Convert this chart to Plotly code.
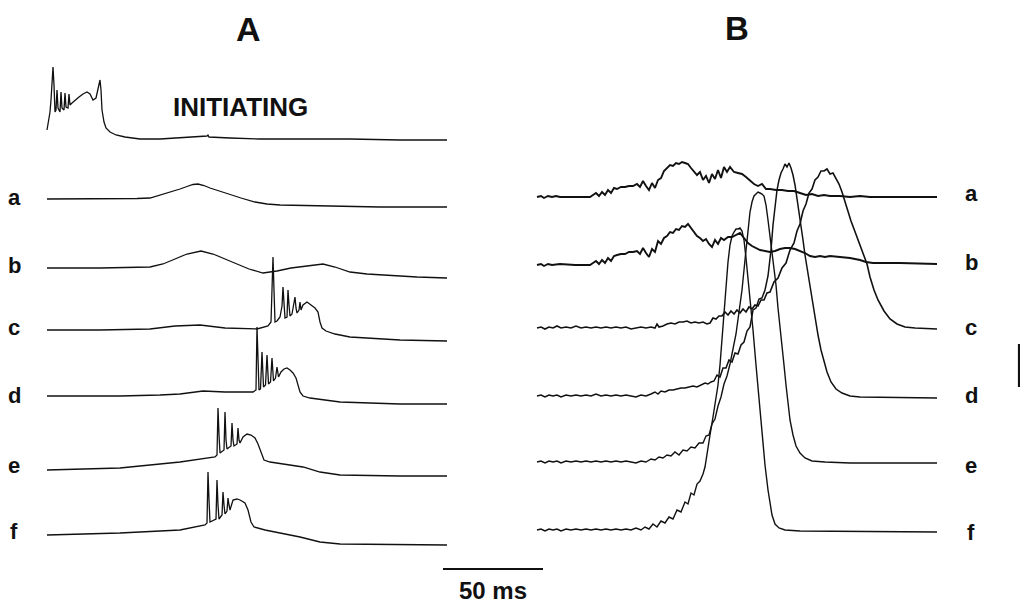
import plotly.graph_objects as go

# ---------------- data (time in ms, deflection in arbitrary units, up = positive) -------------
# Panel A : intracellular recordings
A_init_t = [0, 1, 1.5, 2, 2.5, 3, 3.5, 4, 4.5, 5, 5.5, 6.5, 7, 7.5, 8.5, 9, 9.5, 10.5, 11, 11.5,
            12.5, 14, 16, 18, 20, 21.5, 23, 24.5, 25.5, 26.5, 27, 27.5, 28.5, 29.5, 31.5, 34.5, 39,
            46.5, 56.5, 66.5, 74, 80, 80.5, 81, 91.5, 106.5, 126.5, 151.5, 176.5, 200]
A_init_v = [10, 20, 28, 40, 60, 73, 55, 28, 30, 50, 32, 28, 48, 32, 30, 47, 33, 32, 46, 35,
            37, 40, 43, 46, 48, 46, 40, 42, 52, 60, 50, 30, 18, 12, 8, 5, 3,
            1, 1, 2, 3, 4, 5, 3, 2, 1, 1, 1, 0, 0]

A_a_t = [0, 26.5, 45, 51.5, 55, 59, 63, 66.5, 70, 73, 75.5, 78.5, 81.5, 86, 91.5, 97, 104, 110,
         116.5, 136.5, 166.5, 200]
A_a_v = [8, 8, 8.5, 9, 11, 13, 15.5, 18, 20.5, 22.5, 23, 21.5, 19, 16, 12, 9, 5, 3, 2, 1, 0, 0]

A_b_t = [0, 26.5, 51.5, 58, 64, 70, 77, 83, 89, 95, 101, 108, 115, 122, 130, 138, 144, 151.5,
         160, 170, 185, 200]
A_b_v = [10, 10, 11, 14, 19, 24, 27, 24, 19, 14, 9, 5, 7, 10, 12, 14, 11, 6, 4, 2.5, 1, 0]

A_c_t = [0, 26.5, 51.5, 64, 76.5, 89, 105, 110.5, 112, 112.5, 113, 113.5, 114, 115, 116.5, 117.5,
         118, 118.5, 119, 120, 120.5, 121, 121.5, 122.5, 123.5, 124, 124.5, 125, 126, 126.5, 127,
         128, 130, 132, 134, 135.5, 136.5, 137.5, 139.5, 144, 151.5, 176.5, 200]
A_c_v = [11, 11, 12, 15, 16, 13, 12, 15, 19, 51, 84, 51, 19, 20, 24, 35,
         54, 38, 23, 24, 51, 36, 25, 27, 41, 44, 33, 28, 31, 39, 31,
         36, 39, 36, 33, 29, 19, 13, 10, 7, 4, 1, 0]

A_d_t = [0, 36.5, 56.5, 66.5, 78, 89, 103, 104.5, 105, 105.5, 106, 106.75, 107.5, 108.25, 109.25,
         110, 110.75, 111.75, 112.5, 113.25, 114.25, 115, 115.75, 117, 118.5, 120, 121.5, 123,
         124.5, 125.5, 126.5, 128, 131.5, 139, 146.5, 176.5, 200]
A_d_v = [8, 8, 9, 10, 13, 12, 12, 14, 77, 39, 14, 15, 52, 17, 19,
         49, 20, 22, 46, 23, 26, 37, 27, 32, 35, 36, 34, 31,
         26, 19, 12, 8, 6, 4, 2, 0, 0]

A_e_t = [0, 36.5, 66.5, 84, 85, 85.5, 86, 86.5, 88.5, 89, 89.5, 90, 92, 92.5, 93, 93.5, 95, 95.5,
         96, 96.5, 98, 100, 102, 104, 105.5, 107, 108.5, 111.5, 119, 128, 136.5, 146.5, 176.5, 200]
A_e_v = [6, 8, 14, 19, 21, 68, 41, 23, 26, 64, 36, 27, 30, 53, 36, 30, 32, 48,
         36, 33, 39, 42, 41, 38, 32, 23, 16, 14, 12, 9, 4, 1, 0, 0]

A_f_t = [0, 36.5, 66.5, 79, 80, 80.5, 81, 81.5, 84.5, 85, 85.5, 86, 87.5, 88, 88.5, 89, 90, 90.5,
         91, 91.5, 93, 95, 96.5, 99, 100.5, 102, 103.5, 109, 116.5, 126.5, 136.5, 146.5, 200]
A_f_v = [10, 12, 15, 20, 22, 73, 45, 23, 26, 65, 40, 26, 30, 53, 40, 31, 34, 47,
         40, 35, 45, 46, 45, 42, 35, 23, 18, 15, 12, 8, 3, 1, 0]

# Panel B
B_a_t = [0, 2, 3.5, 5.5, 7.5, 9.5, 11.5, 26.5, 28, 29.5, 31, 32.5, 34, 35.5, 37, 38.5, 40, 42, 44,
         46, 48, 50, 51.5, 53, 54.5, 56, 57.5, 59, 60.5, 62, 63.5, 65, 66.5, 68, 69.5, 71, 72.5,
         74, 75.5, 77, 78.5, 80, 81.5, 83, 84.5, 86, 87.5, 89, 90.5, 92, 93.5, 95, 96.5, 98.5,
         100.5, 102.5, 104.5, 106.5, 108.5, 110.5, 112.5, 114.5, 116.5, 119.5, 122.5, 125.5,
         128.5, 131.5, 134.5, 137.5, 140.5, 143.5, 146.5, 151.5, 156.5, 161.5, 166.5, 200]
B_a_v = [0, 1, -1, 1, 0, 1, 0, 0, 2, 4, 1, 5, 2, 7, 4, 9, 8, 10, 10,
         11, 11, 13, 10, 16, 11, 7, 14, 9, 17, 19, 26, 29, 32, 31, 34, 33, 35,
         34, 33, 29, 26, 22, 25, 17, 21, 14, 23, 18, 27, 19, 30, 25, 30, 25,
         24, 23, 20, 16, 13, 11, 13, 8, 8, 7, 7, 6,
         6, 4, 2, 3, 1, 2, 1, 1, 0, 1, 0, 0]

B_b_t = [0, 2, 3.5, 5.5, 7.5, 11.5, 19, 26.5, 28, 29.5, 31, 32.5, 34, 35.5, 37, 38.5, 40, 42, 44,
         46, 48, 50, 51.5, 53, 54.5, 56, 57.5, 59, 60.5, 62, 63.5, 65, 66.5, 68, 69.5, 71, 72.5,
         74, 75.5, 77, 78.5, 80, 81.5, 83, 84.5, 86, 87.5, 89, 90.5, 92, 93.5, 95.5, 97.5, 99.5,
         101.5, 103.5, 105.5, 107.5, 109.5, 111.5, 114, 116.5, 119, 121.5, 124, 126.5, 129,
         131.5, 134, 136.5, 139, 141.5, 144, 146.5, 151.5, 156.5, 161.5, 164.5, 168, 181.5, 200]
B_b_v = [-1, 0, -2, 0, -1, 0, -1, -1, 1, 3, 0, 4, 1, 6, 3, 8, 9, 10, 10,
         12, 12, 13, 10, 16, 11, 7, 15, 12, 23, 20, 26, 28, 32, 31, 35, 34, 38,
         37, 40, 36, 32, 28, 26, 23, 25, 20, 17, 24, 20, 26, 24, 27, 27, 29,
         31, 26, 21, 18, 16, 14, 13, 12, 13, 15, 16, 16, 15,
         13, 11, 8, 7, 8, 7, 8, 7, 6, 4, 2, 1, 1, 0]

B_c_t = [0, 2, 4, 6, 8, 10, 12, 14.5, 17, 19.5, 22, 24.5, 27, 29.5, 32, 34.5, 37, 39.5, 42, 44.5,
         47, 49.5, 52, 54.5, 57, 59, 60, 61, 63, 65, 67, 69, 71, 73, 75, 77, 79, 81, 83, 85,
         86.5, 88, 89.5, 91, 92.5, 94, 95.5, 97, 98.5, 100, 101.5, 103, 104.5, 106, 107.5, 109,
         110.5, 112, 113.5, 115, 116.5, 118.5, 120.5, 122.5, 124.5, 126.5, 128.5, 130, 131.5, 133,
         134.5, 136, 137.5, 139, 140.5, 142, 143.5, 145, 146.5, 148, 149.5, 151, 152.5, 154,
         155.5, 157, 158.5, 160, 161.5, 163.5, 165, 166.5, 168.5, 170.5, 173.5, 176.5, 180, 184,
         189, 200]
B_c_v = [1, 2, 0, 2, 1, 3, 1, 2, 1, 3, 1, 2, 1, 2, 1, 2, 1, 2, 1, 2,
         0, 1, 2, 1, 2, 1, 5, 2, 3, 5, 6, 5, 7, 7, 8, 6, 7, 6, 7, 5,
         6, 11, 10, 13, 13, 17, 14, 18, 15, 19, 16, 20, 17, 22, 20, 24,
         23, 29, 29, 36, 37, 47, 51, 61, 66, 79, 86, 98, 105, 118,
         125, 136, 140, 149, 152, 158, 158, 160, 155, 156, 150, 145, 137, 127,
         117, 108, 100, 92, 84, 74, 65, 52, 39, 29, 18, 10, 5, 2,
         1, 0]

B_d_t = [0, 2, 4, 6, 8, 10, 12, 14.5, 17, 19.5, 22, 24.5, 27, 29.5, 32, 34.5, 37, 39.5, 42, 44.5,
         47, 49.5, 52, 54.5, 57, 59, 60.5, 62, 64, 66, 68, 70, 72, 74, 76, 78, 80, 82, 84, 85.5,
         87, 88.5, 90, 91.5, 93, 94.5, 96, 97.5, 99, 100.5, 102, 103.5, 105, 106.5, 108, 109.5,
         111, 112.5, 114, 115.5, 117, 118, 119, 120, 121, 122, 123, 124, 125, 126, 127, 128, 129,
         130, 131, 132, 133, 134, 135, 136, 137.5, 139, 140.5, 142, 143.5, 145, 147, 149.5,
         152.5, 156.5, 161.5, 200]
B_d_v = [2, 3, 1, 3, 2, 3, 1, 3, 2, 3, 2, 3, 2, 4, 2, 3, 2, 3, 2, 3,
         2, 1, 3, 2, 4, 6, 4, 7, 6, 8, 8, 9, 10, 10, 11, 12, 11, 13, 15, 14,
         16, 17, 23, 21, 30, 30, 38, 36, 45, 44, 53, 56, 67, 71, 88, 90,
         99, 100, 108, 122, 148, 173, 193, 208, 218, 225, 229, 234, 231, 235, 230, 223, 213,
         200, 186, 172, 158, 143, 130, 118, 101, 81, 63, 48, 36, 26, 16, 9,
         5, 2, 1, 0]

B_e_t = [0, 2, 4, 6, 8, 10, 12, 14.5, 17, 19.5, 22, 24.5, 27, 29.5, 32, 34.5, 37, 39.5, 42, 44.5,
         47, 49.5, 52, 54.5, 57, 59, 61, 63, 65, 67, 69, 71, 73, 75, 77, 79, 81, 83, 84.5, 86,
         87.5, 89, 90.5, 92, 93.5, 95, 96.5, 98, 99.5, 101, 102.5, 104, 105.5, 106.5, 107.5,
         108.5, 109.5, 110.5, 111.5, 112.5, 113.5, 114.5, 115.5, 116.5, 117.5, 118.5, 119.5,
         120.5, 121.5, 122.5, 123.5, 124.5, 125.5, 126.5, 128, 129.5, 131.5, 134, 137.5, 144,
         156.5, 200]
B_e_v = [1, 2, 0, 2, 1, 2, 0, 2, 1, 2, 1, 2, 1, 2, 1, 2, 1, 2, 1, 2,
         1, 0, 2, 1, 4, 3, 6, 5, 8, 7, 11, 8, 13, 12, 16, 15, 20, 20, 27, 28,
         39, 44, 57, 66, 79, 87, 99, 113, 129, 151, 173, 203, 233, 251, 261,
         267, 269, 271, 270, 269, 267, 258, 243, 228, 213, 198, 178,
         155, 138, 118, 98, 78, 58, 43, 28, 17, 10, 5, 2, 1,
         0, 0]

B_f_t = [0, 2, 4, 6, 8, 10, 12, 14.5, 17, 19.5, 22, 24.5, 27, 29.5, 32, 34.5, 37, 39.5, 42, 44.5,
         47, 49.5, 52, 54, 56, 58, 60, 62, 64, 66, 68, 70, 72, 74, 75.5, 77, 78.5, 80, 81.5, 83,
         84, 85, 86.5, 88, 89.5, 90.5, 91.5, 92.5, 93.5, 94.5, 95.5, 96.5, 97.5, 98.5, 99.5,
         100.5, 101.5, 102.5, 103.5, 104.5, 105.5, 106.5, 108, 109.5, 111, 112.5, 114, 115.5,
         116.5, 117.5, 119, 121, 124, 131.5, 200]
B_f_v = [2, 3, 1, 3, 2, 3, 1, 3, 2, 3, 2, 3, 2, 3, 2, 3, 2, 3, 2, 3,
         2, 4, 2, 5, 3, 8, 5, 11, 9, 15, 13, 22, 20, 30, 28, 39, 37, 48, 51, 58,
         65, 80, 97, 115, 132, 147, 167, 192, 222, 247, 270, 287, 296, 300, 303,
         303, 304, 301, 292, 274, 255, 235, 202, 167, 132, 97, 67, 42,
         27, 17, 8, 4, 2, 1, 0]

TRACE_LABELS = ["a", "b", "c", "d", "e", "f"]
SCALE_MS = 50          # horizontal calibration
SCALE_V = 43           # vertical calibration (same units as the deflections)

# ---------------- layout parameters -------------
A_X0, B_X0 = 0, 245                      # ms offsets of the two panels
A_ROWS = [140, 207, 278, 341, 404, 476, 545]   # baseline rows (init, a..f)
B_ROWS = [197, 264, 329, 398, 463, 532]
LEFT_LABEL_ROWS = [197, 265, 327, 395, 465, 531]
RIGHT_LABEL_ROWS = [193, 262, 327, 395, 465, 532]
INK = "#111111"
FONT = "Liberation Sans, Arial, Helvetica, sans-serif"
PAGE_MARGIN = 8        # the browser's default body margin (px)

fig = go.Figure()


def add(t, v, x0, row, w):
    fig.add_trace(go.Scatter(
        x=[x0 + ti for ti in t], y=[vi - row for vi in v], mode="lines",
        line=dict(color=INK, width=w), hoverinfo="skip", showlegend=False))


A_series = [(A_init_t, A_init_v), (A_a_t, A_a_v), (A_b_t, A_b_v), (A_c_t, A_c_v),
            (A_d_t, A_d_v), (A_e_t, A_e_v), (A_f_t, A_f_v)]
for (t, v), row in zip(A_series, A_ROWS):
    add(t, v, A_X0, row, 1.3)

B_series = [(B_a_t, B_a_v), (B_b_t, B_b_v), (B_c_t, B_c_v), (B_d_t, B_d_v),
            (B_e_t, B_e_v), (B_f_t, B_f_v)]
B_widths = [1.9, 1.9, 1.6, 1.5, 1.4, 1.4]
for (t, v), row, w in zip(B_series, B_ROWS, B_widths):
    add(t, v, B_X0, row, w)

# calibration bars
fig.add_trace(go.Scatter(x=[198, 198 + SCALE_MS], y=[-569, -569], mode="lines",
                         line=dict(color=INK, width=2), hoverinfo="skip", showlegend=False))
fig.add_trace(go.Scatter(x=[486, 486], y=[-344, -344 - SCALE_V], mode="lines",
                         line=dict(color=INK, width=2.2), hoverinfo="skip", showlegend=False))

ann = []


def text(x, y, s, size, yanchor="middle"):
    ann.append(dict(x=x, y=y, xref="x", yref="y", text="<b>%s</b>" % s, showarrow=False,
                    font=dict(family=FONT, size=size, color=INK), xanchor="center",
                    yanchor=yanchor, borderpad=0))


text(100.5, -8.5, "A", 34, "top")
text(345, -8.5, "B", 33, "top")
text(96.5, -107, "INITIATING", 26)
for lab, r in zip(TRACE_LABELS, LEFT_LABEL_ROWS):
    text(-16.5, -r, lab, 22)
for lab, r in zip(TRACE_LABELS, RIGHT_LABEL_ROWS):
    text(462, -r, lab, 22)
text(198 + SCALE_MS / 2, -590, "%d ms" % SCALE_MS, 24)

W, H = 1028, 606
fig.update_layout(
    width=W - PAGE_MARGIN, height=H - PAGE_MARGIN, margin=dict(l=0, r=0, t=0, b=0),
    paper_bgcolor="white", plot_bgcolor="white",
    xaxis=dict(range=[(PAGE_MARGIN - 47) / 2, 490.5], visible=False, fixedrange=True),
    yaxis=dict(range=[-H, -PAGE_MARGIN], visible=False, fixedrange=True),
    annotations=ann, showlegend=False,
)
fig.write_html("out.html")
